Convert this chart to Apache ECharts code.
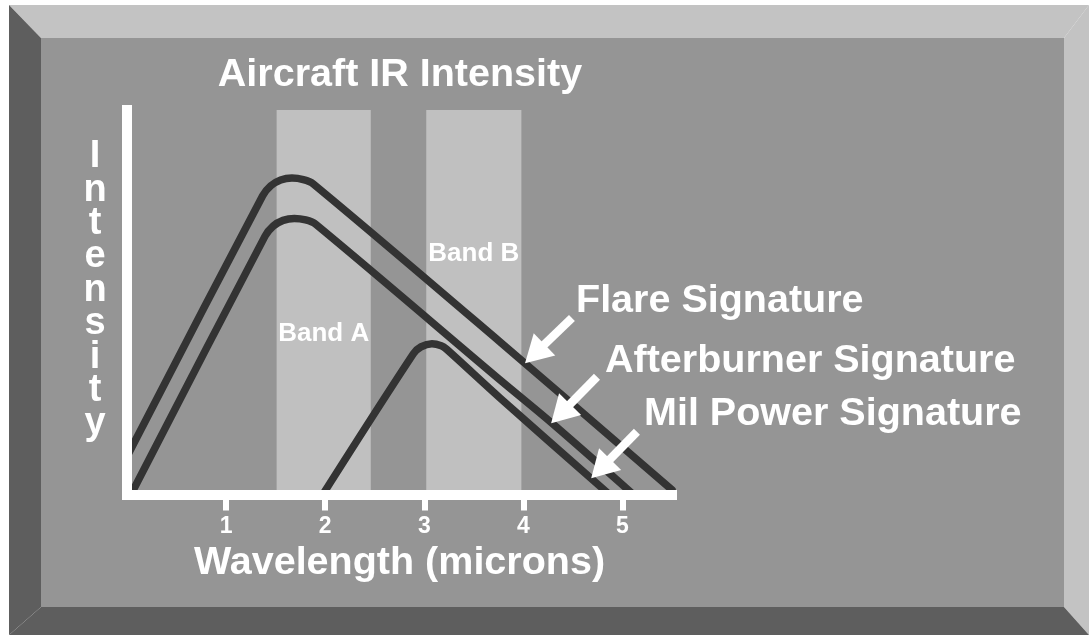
<!DOCTYPE html>
<html><head><meta charset="utf-8">
<script src="https://cdn.jsdelivr.net/npm/echarts@6/dist/echarts.min.js"></script>
<style>html,body{margin:0;padding:0;background:#fff}#c{width:1089px;height:635px}</style>
</head><body><div id="c"></div>
<script>
// ---- data ----
const xTicks = [1, 2, 3, 4, 5];
const bandNames = ['Band A', 'Band B'];
const bandStart = [1.51, 3.02];
const bandEnd = [2.46, 3.98];
const flare = [[0, 9.9], [1.369, 77.7], [1.451, 80.3], [1.551, 81.8], [1.665, 82.3], [1.779, 81.9], [1.879, 80.8], [3.764, 39.7], [5.5, 1.2]];
const afterburner = [[0.04, 0], [1.393, 67.2], [1.475, 69.8], [1.575, 71.3], [1.689, 71.8], [1.803, 71.4], [1.903, 70.3], [3.764, 29.8], [4.268, 19.0], [5.11, 0]];
const milPower = [[1.976, 0], [2.890, 36.6], [2.966, 38.4], [3.077, 39.2], [3.171, 38.7], [3.224, 37.8], [3.764, 25.1], [4.868, 0]];
const arrowTails = [[4.49, 45.9], [4.743, 30.6], [5.146, 16.3]];
const arrowHeads = [[4.115, 36.6], [4.376, 21.0], [4.78, 6.7]];
const seriesNames = ['Flare Signature', 'Afterburner Signature', 'Mil Power Signature'];
const titleText = 'Aircraft IR Intensity';
const xName = 'Wavelength (microns)';
const yName = 'Intensity';

const FF = '"Liberation Sans", Arial, Helvetica, sans-serif';
const LINE = '#333333';
const BIG = 39.5;
const chart = echarts.init(document.getElementById('c'), null, {renderer: 'canvas'});

function txt(text, x, y, size, align) {
  return {
    type: 'text', x: x, y: y, z: 100, silent: true,
    style: {text: text, fill: '#ffffff', fontFamily: FF, fontWeight: 'bold', fontSize: size,
      align: align || 'left', verticalAlign: 'middle'}
  };
}

const lineSeries = (name, data) => ({
  type: 'line', name: name, data: data, smooth: 0.3, symbol: 'none', z: 2,
  lineStyle: {color: LINE, width: 7.5, cap: 'round', join: 'round'},
  emphasis: {disabled: true}, animation: false
});

const s0 = lineSeries(seriesNames[0], flare);
s0.markArea = {
  silent: true, z: 1,
  itemStyle: {color: '#c0c0c0'},
  label: {show: true, color: '#ffffff', fontFamily: FF, fontWeight: 'bold', fontSize: 26,
    align: 'center', verticalAlign: 'middle', formatter: '{b}'},
  data: bandNames.map((n, i) => [
    {name: n, xAxis: bandStart[i], label: {position: ['50%', i === 0 ? 224 : 144]}},
    {xAxis: bandEnd[i]}
  ])
};
const s2 = lineSeries(seriesNames[2], milPower);
s2.markLine = {
  silent: true, z: 6, animation: false,
  symbol: ['none', 'triangle'], symbolSize: [31, 27],
  lineStyle: {color: '#ffffff', width: 8.5, type: 'solid', cap: 'butt'},
  label: {show: false}, emphasis: {disabled: true},
  data: arrowTails.map((t, i) => [{coord: t}, {coord: arrowHeads[i]}])
};

chart.setOption({
  animation: false,
  backgroundColor: '#ffffff',
  grid: {left: 127, top: 110, width: 545, height: 384.5, containLabel: false},
  xAxis: {
    type: 'value', min: 0, max: 5.5, z: 5,
    axisLine: {show: true, onZero: false, lineStyle: {color: '#ffffff', width: 10, cap: 'square'}},
    axisTick: {show: true, customValues: xTicks, length: 16, lineStyle: {color: '#ffffff', width: 6}},
    axisLabel: {show: true, customValues: xTicks, color: '#ffffff', fontFamily: FF, fontWeight: 'bold',
      fontSize: 23, margin: 32, verticalAlign: 'middle'},
    splitLine: {show: false},
    name: xName, nameLocation: 'middle', nameGap: 67,
    nameTextStyle: {color: '#ffffff', fontFamily: FF, fontWeight: 'bold', fontSize: BIG, verticalAlign: 'middle'}
  },
  yAxis: {
    type: 'value', min: 0, max: 100, z: 5,
    axisLine: {show: true, onZero: false, lineStyle: {color: '#ffffff', width: 10, cap: 'square'}},
    axisTick: {show: false}, axisLabel: {show: false}, splitLine: {show: false}
  },
  graphic: {elements: [
    {type: 'polygon', z: -10, silent: true, shape: {points: [[9, 5], [1089, 5], [1064, 38], [41, 38]]}, style: {fill: '#c3c3c3'}},
    {type: 'polygon', z: -10, silent: true, shape: {points: [[1064, 38], [1089, 5], [1089, 635], [1064, 607]]}, style: {fill: '#c3c3c3'}},
    {type: 'polygon', z: -10, silent: true, shape: {points: [[9, 5], [41, 38], [41, 607], [9, 635]]}, style: {fill: '#5e5e5e'}},
    {type: 'polygon', z: -10, silent: true, shape: {points: [[9, 635], [41, 607], [1064, 607], [1089, 635]]}, style: {fill: '#5e5e5e'}},
    {type: 'rect', z: -10, silent: true, shape: {x: 41, y: 38, width: 1023, height: 569}, style: {fill: '#959595'}},
    txt(titleText, 400, 75.5, BIG, 'center'),
    txt(seriesNames[0], 576, 301.5, BIG, 'left'),
    txt(seriesNames[1], 605, 361.5, BIG, 'left'),
    txt(seriesNames[2], 644, 414.5, BIG, 'left'),
    {type: 'text', x: 95, y: 140, z: 100, silent: true,
     style: {text: yName.split('').join('\n'), fill: '#ffffff', fontFamily: FF, fontWeight: 'bold',
       fontSize: 38, lineHeight: 33.4, align: 'center', verticalAlign: 'top'}}
  ]},
  series: [s0, lineSeries(seriesNames[1], afterburner), s2]
});
</script></body></html>
